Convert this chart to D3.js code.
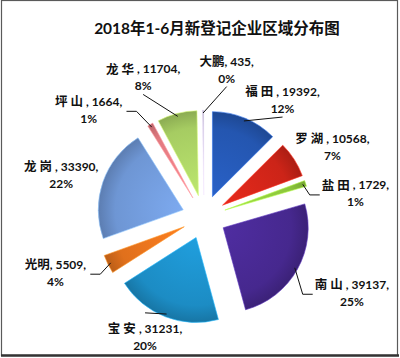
<!DOCTYPE html>
<html><head><meta charset="utf-8">
<script src="https://cdn.jsdelivr.net/npm/d3@7/dist/d3.min.js"></script>
<style>
html,body{margin:0;padding:0;background:#fff;}
svg{display:block;}
text{font-family:"Lato","Noto Sans CJK SC",sans-serif;font-weight:bold;fill:#111;}
</style></head>
<body>
<svg id="c" width="400" height="358"></svg>
<script>
// ---- data ----
const title = "2018年1-6月新登记企业区域分布图";
const categories = ["福田","罗湖","盐田","南山","宝安","光明","龙岗","坪山","龙华","大鹏"];
const values = [19392,10568,1729,39137,31231,5509,33390,1664,11704,435];
const percentLabels = ["12%","7%","1%","25%","20%","4%","22%","1%","8%","0%"];

// ---- style / layout ----
const colors = ["#2456b0","#cc2418","#8cc63c","#46288e","#1c8cc4","#e0701c","#6e96d4","#e27a80","#a6cc62","#b8b0d0"];
const labelNudge = [[21,23],[2,12],[9,25],[17,4],[-5,-19],[-14,-9],[-1,8],[-40,24],[-23,7],[24,4]];
const leaderSide = ["bottom",null,"left","left","top","right",null,"right","bottom","bottom"];
const cx = 204, cy = 217, R = 85, explode = 22, labelR = 150;

const svg = d3.select("#c");
// frame
svg.append("rect").attr("x",1.5).attr("y",0.5).attr("width",396).attr("height",355)
  .attr("fill","#fff").attr("stroke","#5a5a5a").attr("stroke-width",1.2);
svg.append("line").attr("x1",1).attr("x2",399).attr("y1",355.5).attr("y2",355.5)
  .attr("stroke","#333").attr("stroke-width",2.5);

svg.append("text").attr("x",217).attr("y",30).attr("text-anchor","middle")
  .attr("dominant-baseline","middle").style("font-size","15.5px").text(title);

const data = categories.map((c,i)=>({name:c,value:values[i],pct:percentLabels[i],i}));
const pie = d3.pie().sort(null).value(d=>d.value);
const arcs = pie(data);
const arc = d3.arc().innerRadius(0).outerRadius(R);
const mid = a => (a.startAngle + a.endAngle)/2;
const dir = t => [Math.sin(t), -Math.cos(t)];

const defs = svg.append("defs");
arcs.forEach((a,i)=>{
  const base = d3.color(colors[i]);
  const g = defs.append("radialGradient").attr("id","g"+i)
    .attr("gradientUnits","userSpaceOnUse").attr("cx",0).attr("cy",0).attr("r",R);
  g.append("stop").attr("offset","0%").attr("stop-color",base.brighter(0.35));
  g.append("stop").attr("offset","80%").attr("stop-color",base);
  g.append("stop").attr("offset","100%").attr("stop-color",base.darker(0.5));
});

const slices = svg.append("g");
arcs.forEach((a,i)=>{
  const [dx,dy] = dir(mid(a));
  slices.append("path")
    .attr("transform",`translate(${cx+dx*explode},${cy+dy*explode})`)
    .attr("d",arc(a)).attr("fill",`url(#g${i})`)
    .attr("stroke",d3.color(colors[i]).brighter(0.8)).attr("stroke-width",0.6);
});

const labG = svg.append("g");
const leadG = svg.append("g");
arcs.forEach((a,i)=>{
  const t = mid(a);
  const [dx,dy] = dir(t);
  const lx = cx + dx*labelR + labelNudge[i][0];
  const ly = cy + dy*labelR + labelNudge[i][1];
  const txt = labG.append("text").attr("text-anchor","middle").style("font-size","12px");
  const l1 = txt.append("tspan").attr("x",lx).attr("y",ly-8.5).attr("dominant-baseline","middle");
  l1.append("tspan").style("font-family","'Noto Sans CJK SC'").style("font-size","12.5px")
    .attr("letter-spacing", (a.data.name==="大鹏"||a.data.name==="光明")?0:3).text(a.data.name);
  l1.append("tspan").text(", " + a.data.value + ",");
  txt.append("tspan").attr("x",lx).attr("y",ly+8.5).attr("dominant-baseline","middle").text(a.data.pct);
  const side = leaderSide[i];
  if(!side) return;
  const bb = txt.node().getBBox();
  const sx = cx + dx*explode + dx*(R-3), sy = cy + dy*explode + dy*(R-3);
  let pts;
  if(side==="bottom") pts = [[sx,sy],[lx,bb.y+bb.height+1]];
  else if(side==="top") pts = [[sx,sy],[lx,bb.y-5]];
  else if(side==="left") pts = [[sx,sy],[bb.x-12,ly],[bb.x-2,ly]];
  else pts = [[sx,sy],[bb.x+bb.width+14,ly],[bb.x+bb.width+4,ly]];
  leadG.append("path").attr("d",d3.line()(pts)).attr("fill","none")
    .attr("stroke","#111").attr("stroke-width",1);
});
</script>
</body></html>
